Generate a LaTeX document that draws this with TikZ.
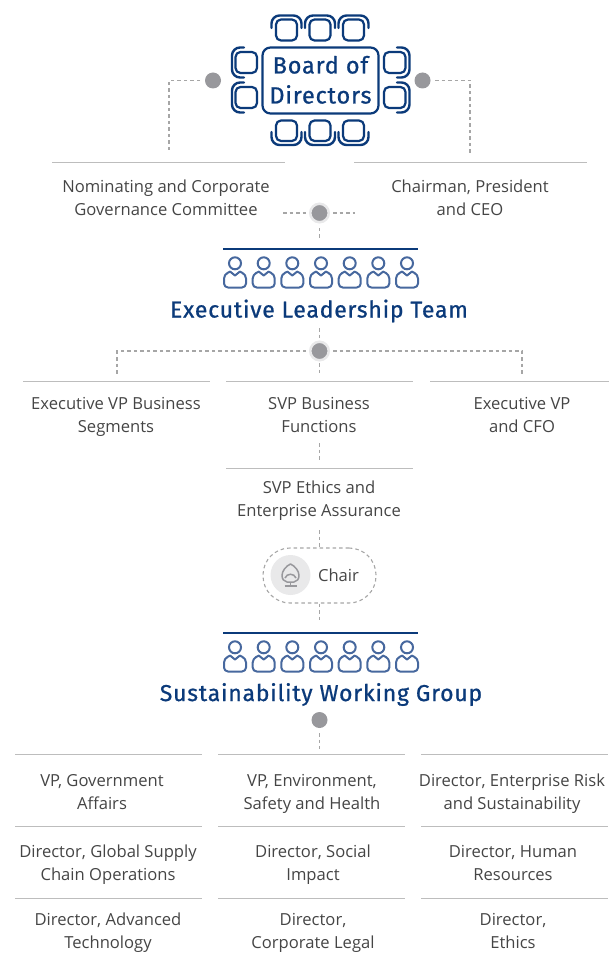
\documentclass[tikz,border=0pt]{standalone}
\usepackage{fontspec}
\setmainfont{Open Sans}
\newfontfamily\headfont[FakeBold=0.8,LetterSpace=3.4]{Fira Sans}
\definecolor{navy}{HTML}{0B3A7A}
\definecolor{pblue}{HTML}{47689E}
\definecolor{dotgray}{HTML}{98989C}
\definecolor{halo}{HTML}{E9E9EA}
\definecolor{dashgray}{HTML}{A6A6A6}
\definecolor{rulegray}{HTML}{BDBDBD}
\definecolor{txt}{HTML}{454545}
\newcommand{\tl}[2]{\strut #1\\\strut #2}
\tikzset{
 x=1pt,y=-1pt,
 lab/.style={font=\fontsize{16.6}{23}\selectfont,text=txt,align=center,inner sep=0pt,yshift=-1.8pt},
 head/.style={font=\headfont\fontsize{23}{26}\selectfont,text=navy,inner sep=0pt,yshift=-1pt},
 dashline/.style={draw=dashgray,line width=1.1pt,dash pattern=on 3.5pt off 3pt},
 graydot/.style={circle,fill=dotgray,minimum size=16pt,inner sep=0pt},
 halodot/.style={circle,fill=dotgray,draw=halo,line width=2.5pt,minimum size=18.5pt,inner sep=0pt},
 rulel/.style={draw=rulegray,line width=1pt},
 navyl/.style={draw=navy,line width=1.2pt},
 tbl/.style={draw=navy,line width=2.2pt,rounded corners=5pt},
 chairback/.style={draw=navy,line width=2.4pt,rounded corners=8pt,line cap=round},
}
\newcommand{\personicon}[2]{%
 \draw[pblue,line width=2pt] (#1,#2+0.3) circle[radius=6];
 \draw[pblue,line width=2pt,rounded corners=4pt,line join=round]
   (#1-4.5,#2+8.5) -- (#1-11,#2+11.5) -- (#1-11,#2+24.5) -- (#1+11,#2+24.5) -- (#1+11,#2+11.5) -- (#1+4.5,#2+8.5);
 \draw[pblue,line width=2pt,line join=round] (#1-5,#2+8.5) -- (#1,#2+12.5) -- (#1+5,#2+8.5);
}
\newcommand{\peoplerow}[1]{%
 \foreach \px in {235,263.7,292.3,321,349.7,378.3,407} {\personicon{\px}{#1}}
}
\newcommand{\topchair}[1]{%
 \draw[tbl] (#1-10.5,19.5) rectangle (#1+10.5,40.5);
 \draw[chairback] (#1-15,28) -- (#1-15,15.5) -- (#1+15,15.5) -- (#1+15,28);
}
\newcommand{\botchair}[1]{%
 \draw[tbl] (#1-10.5,120.5) rectangle (#1+10.5,141);
 \draw[chairback] (#1-15,132) -- (#1-15,145) -- (#1+15,145) -- (#1+15,132);
}
\newcommand{\leftchair}[1]{%
 \draw[tbl] (235.5,#1-10.5) rectangle (257,#1+10.5);
 \draw[chairback] (244,#1-15) -- (232,#1-15) -- (232,#1+15) -- (244,#1+15);
}
\newcommand{\rightchair}[1]{%
 \draw[tbl] (384,#1-10.5) rectangle (405.5,#1+10.5);
 \draw[chairback] (397,#1-15) -- (409.5,#1-15) -- (409.5,#1+15) -- (397,#1+15);
}
\begin{document}
\begin{tikzpicture}
\useasboundingbox (0,0) rectangle (609,957);
% board icon
\foreach \c in {286.5,320,353.5} {\topchair{\c}\botchair{\c}}
\foreach \c in {62.5,97.5} {\leftchair{\c}\rightchair{\c}}
\node[draw=navy,line width=2.2pt,rounded corners=8pt,minimum width=116pt,minimum height=66pt,inner sep=0pt] (board) at (320.5,80.5) {};
\node[inner sep=0pt,align=center,text=navy,font=\headfont\fontsize{23.5}{30}\selectfont] (boardtxt) at (320.5,82.5) {\tl{Board of}{Directors}};
% dots
\node[graydot] (d1) at (213,80.5) {};
\node[graydot] (d2) at (422.5,80.5) {};
\node[halodot] (d3) at (319.5,213) {};
\node[halodot] (d4) at (319.5,351) {};
\node[graydot] (d5) at (319.5,720) {};
% top connectors
\coordinate (c1a) at (200,80.5); \coordinate (c1b) at (169,80.5); \coordinate (c1c) at (169,153);
\coordinate (c2a) at (435,80.5); \coordinate (c2b) at (470,80.5); \coordinate (c2c) at (470,153);
\draw[dashline] (c1a) -- (c1b) -- (c1c);
\draw[dashline] (c2a) -- (c2b) -- (c2c);
\draw[rulel] (52,163) -- (285,163);
\draw[rulel] (354,163) -- (587,163);
\node[lab] (nom) at (166,197.5) {\tl{Nominating and Corporate}{Governance Committee}};
\node[lab] (chm) at (470,197.5) {\tl{Chairman, President}{and CEO}};
% committee dot
\coordinate (e1) at (283,213); \coordinate (e2) at (355,213); \coordinate (e3) at (319.5,241); \coordinate (e3a) at (319.5,228);
\draw[dashline] (e1) -- (306,213);
\draw[dashline] (333,213) -- (e2);
\draw[dashline] (e3a) -- (e3);
\draw[navyl] (223,249) -- (418,249);
\peoplerow{263}
\node[head] (elt) at (319,310) {Executive Leadership Team};
% ELT branches
\coordinate (f0) at (319.5,328); \coordinate (f1) at (319.5,339);
\coordinate (g1) at (117,351); \coordinate (g2) at (522,351);
\coordinate (g1b) at (117,375); \coordinate (g2b) at (522,375); \coordinate (g3b) at (319.5,375); \coordinate (g3a) at (319.5,363);
\draw[dashline] (f0) -- (f1);
\draw[dashline] (306,351) -- (g1) -- (g1b);
\draw[dashline] (333,351) -- (g2) -- (g2b);
\draw[dashline] (g3a) -- (g3b);
\draw[rulel] (23,381) -- (210,381);
\draw[rulel] (226,381) -- (413,381);
\draw[rulel] (430,381) -- (609,381);
\node[lab] (t1) at (116,414.5) {\tl{Executive VP Business}{Segments}};
\node[lab] (t2) at (319,414.5) {\tl{SVP Business}{Functions}};
\node[lab] (t3) at (522,414.5) {\tl{Executive VP}{and CFO}};
\coordinate (h1) at (319.5,443); \coordinate (h2) at (319.5,460);
\draw[dashline] (h1) -- (h2);
\draw[rulel] (226,468) -- (413,468);
\node[lab] (t4) at (319,498.5) {\tl{SVP Ethics and}{Enterprise Assurance}};
% chair pill
\node[draw=dashgray,line width=1.1pt,dash pattern=on 3.5pt off 3pt,rounded corners=27pt,minimum width=113pt,minimum height=55pt,inner sep=0pt] (pill) at (319.5,575.5) {};
\node[circle,fill=halo,minimum size=40pt,inner sep=0pt] (cc) at (290.5,575) {};
\draw[dotgray,line width=1.5pt,line join=round] (290.5,564)
  .. controls (286,566) and (282,571) .. (282,575.5)
  .. controls (282,579) and (284,581.5) .. (287,582) -- (294,582)
  .. controls (297,581.5) and (299,579) .. (299,575.5)
  .. controls (299,571) and (295,566) .. (290.5,564) -- cycle;
\draw[dotgray,line width=1.5pt] (285,578) .. controls (287,573) and (294,573) .. (296,578);
\draw[dotgray,line width=1.5pt] (290.5,582) -- (290.5,585.5);
\draw[dotgray,line width=1.5pt] (284.5,586) -- (296.5,586);
\node[lab] (chairlab) at (338.5,575) {\strut Chair};
\coordinate (i1) at (319.5,530); \coordinate (i2) at (319.5,620);
\draw[dashline] (i1) -- (pill.north);
\draw[dashline] (pill.south) -- (i2);
\draw[navyl] (223,633) -- (418,633);
\peoplerow{647}
\node[head] (swg) at (321,693.5) {Sustainability Working Group};
\coordinate (j1) at (319.5,733); \coordinate (j2) at (319.5,749);
\draw[dashline] (j1) -- (j2);
% grid
\foreach \yy in {754,826,898} {
 \draw[rulel] (15,\yy) -- (202,\yy);
 \draw[rulel] (218,\yy) -- (405,\yy);
 \draw[rulel] (421,\yy) -- (608,\yy);
}
\node[lab] (a1) at (102,791.5) {\tl{VP, Government}{Affairs}};
\node[lab] (a2) at (312,791.5) {\tl{VP, Environment,}{Safety and Health}};
\node[lab] (a3) at (512,791.5) {\tl{Director, Enterprise Risk}{and Sustainability}};
\node[lab] (b1) at (108,862.5) {\tl{Director, Global Supply}{Chain Operations}};
\node[lab] (b2) at (313,862.5) {\tl{Director, Social}{Impact}};
\node[lab] (b3) at (513,862.5) {\tl{Director, Human}{Resources}};
\node[lab] (c1) at (108,930.5) {\tl{Director, Advanced}{Technology}};
\node[lab] (c2) at (313,930.5) {\tl{Director,}{Corporate Legal}};
\node[lab] (c3) at (513,930.5) {\tl{Director,}{Ethics}};
\end{tikzpicture}
\end{document}
